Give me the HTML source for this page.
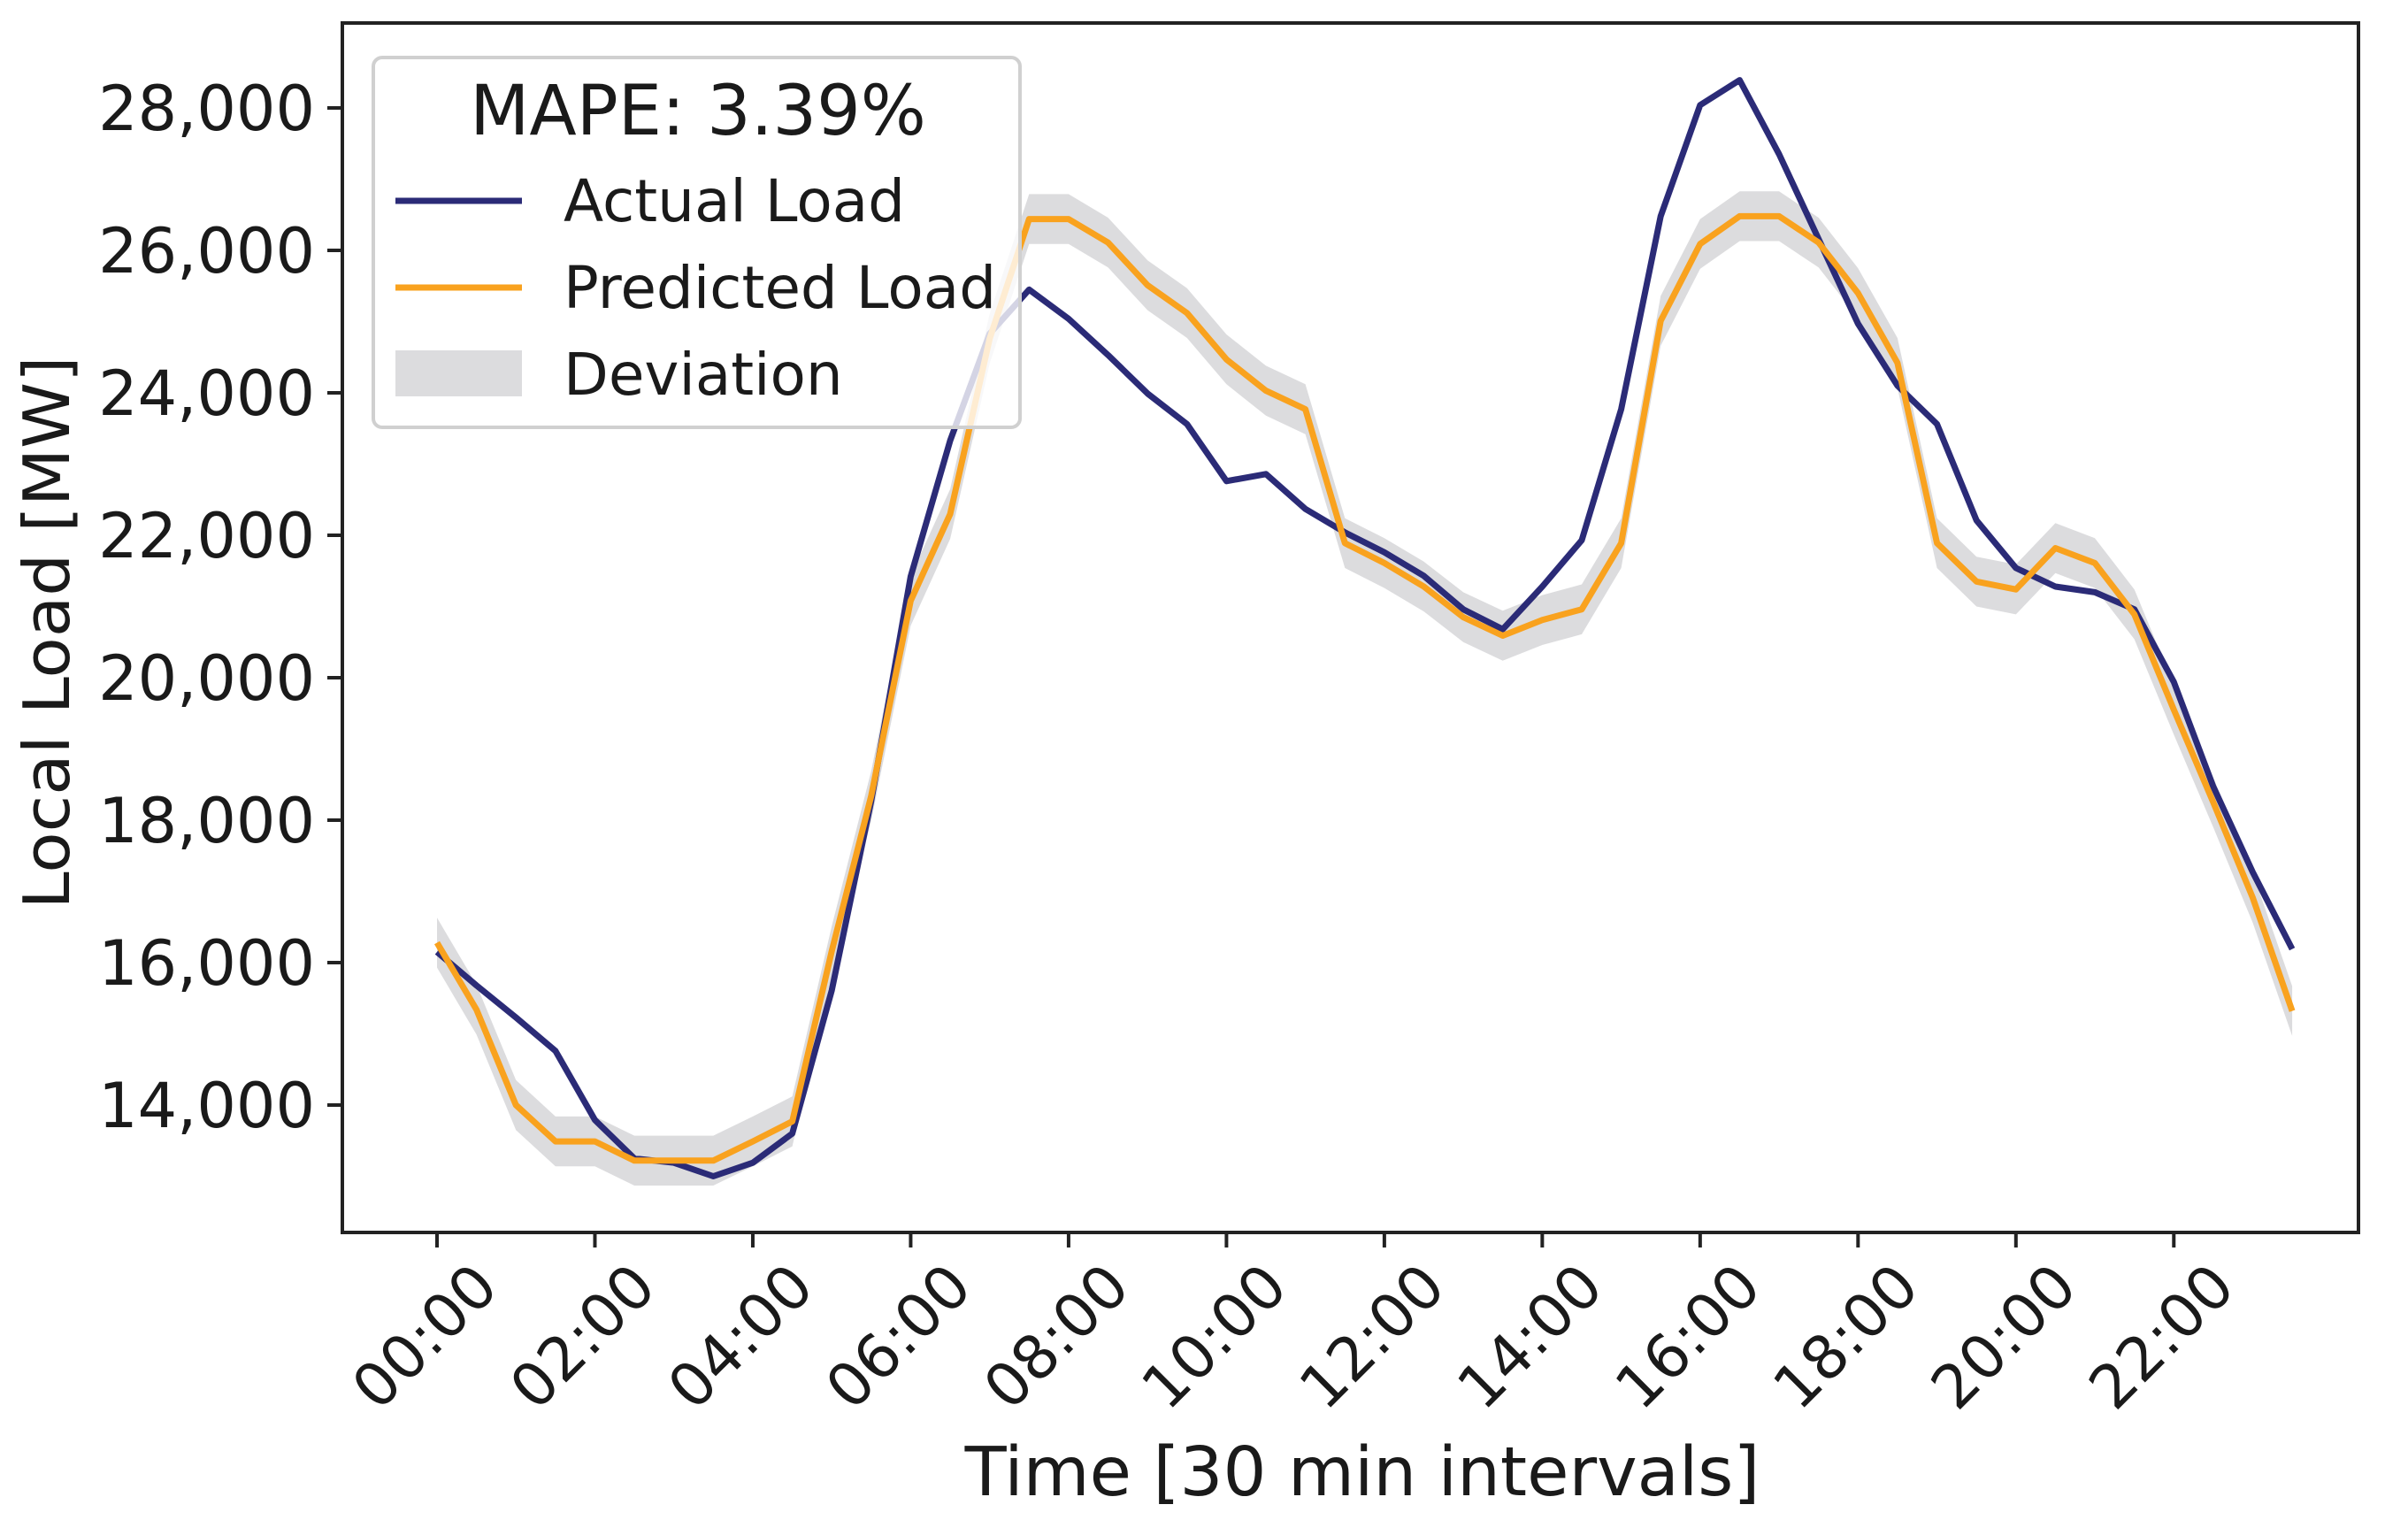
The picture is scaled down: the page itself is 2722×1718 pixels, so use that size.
<!DOCTYPE html>
<html><head><meta charset="utf-8"><style>
html,body{margin:0;padding:0;background:#fff}
svg{display:block}
text{font-family:"DejaVu Sans","Liberation Sans",sans-serif;fill:#1a1a1a}
</style></head><body>
<svg id="chart" width="2722" height="1718" viewBox="0 0 2722 1718" xmlns="http://www.w3.org/2000/svg">
<g id="band-layer"></g>
<g id="line-layer"></g>
<rect x="387" y="26" width="2279" height="1367" fill="none" stroke="#222" stroke-width="4"/>
<g id="axis-layer"></g>
<text transform="translate(78,715) rotate(-90)" text-anchor="middle" font-size="72" textLength="625" lengthAdjust="spacingAndGlyphs">Local Load [MW]</text>
<text x="1540" y="1690" text-anchor="middle" font-size="77">Time [30 min intervals]</text>
<g>
<rect x="422" y="65" width="731" height="418" rx="10" fill="#fff" fill-opacity="0.8" stroke="#d0d0d0" stroke-width="4"/>
<text x="789" y="152" text-anchor="middle" font-size="78">MAPE: 3.39%</text>
<line x1="447" y1="227" x2="590" y2="227" stroke="#2b2b77" stroke-width="7"/>
<text x="637" y="250" font-size="66">Actual Load</text>
<line x1="447" y1="325" x2="590" y2="325" stroke="#f9a21e" stroke-width="7"/>
<text x="637" y="348" font-size="66">Predicted Load</text>
<rect x="447" y="396" width="143" height="52" fill="#dcdcde"/>
<text x="637" y="446" font-size="66">Deviation</text>
</g>
</svg>
<script>
const actual=[16150,15680,15230,14760,13790,13250,13190,13000,13190,13600,15610,18270,21420,23330,24830,25450,25040,24530,23990,23560,22760,22860,22370,22040,21760,21430,20960,20680,21280,21930,23770,26480,28040,28390,27350,26160,24970,24100,23560,22210,21540,21280,21200,20960,19940,18470,17270,16190];
const predicted=[16280,15340,14000,13490,13490,13220,13220,13220,13490,13770,16160,18340,21080,22300,24760,26440,26440,26110,25510,25120,24470,24030,23770,21890,21610,21280,20850,20590,20810,20960,21890,25010,26090,26480,26480,26110,25400,24420,21890,21350,21240,21820,21610,20890,19550,18250,16910,15320];
const deviation=[350,350,350,350,350,350,350,350,350,350,350,350,350,350,350,350,350,350,350,350,350,350,350,350,350,350,350,350,350,350,350,350,350,350,350,350,350,350,350,350,350,350,350,350,350,350,350,350];
const yTicks=[14000,16000,18000,20000,22000,24000,26000,28000];
const xTickIdx=[0,4,8,12,16,20,24,28,32,36,40,44];
const xTickLabels=["00:00","02:00","04:00","06:00","08:00","10:00","12:00","14:00","16:00","18:00","20:00","22:00"];
const NS="http://www.w3.org/2000/svg";
const X=i=>494+i*44.62;
const Y=v=>122+(28000-v)*(1127/14000);
function mk(tag,parent){const e=document.createElementNS(NS,tag);parent.appendChild(e);return e;}
const band=document.getElementById('band-layer');
let up=predicted.map((v,i)=>X(i).toFixed(1)+','+Y(v+deviation[i]).toFixed(1));
let dn=predicted.map((v,i)=>X(i).toFixed(1)+','+Y(v-deviation[i]).toFixed(1)).reverse();
const poly=mk('polygon',band);


poly.setAttribute('points',up.concat(dn).join(' '));
poly.setAttribute('fill','#dcdcde');
const lines=document.getElementById('line-layer');
function line(arr,color,name){const p=mk('polyline',lines);


p.setAttribute('points',arr.map((v,i)=>X(i).toFixed(1)+','+Y(v).toFixed(1)).join(' '));
p.setAttribute('fill','none');p.setAttribute('stroke',color);p.setAttribute('stroke-width','7');p.setAttribute('stroke-linejoin','round');}
line(actual,'#2b2b77','actual-load-line');
line(predicted,'#f9a21e','predicted-load-line');
const ax=document.getElementById('axis-layer');
yTicks.forEach(v=>{const t=mk('line',ax);


t.setAttribute('x1',370);t.setAttribute('x2',387);t.setAttribute('y1',Y(v));t.setAttribute('y2',Y(v));t.setAttribute('stroke','#222');t.setAttribute('stroke-width','4');
const l=mk('text',ax);


l.setAttribute('x',356);l.setAttribute('y',Y(v)+25);l.setAttribute('text-anchor','end');l.setAttribute('font-size','70');
l.textContent=v.toLocaleString('en-US');});
xTickIdx.forEach((i,k)=>{const t=mk('line',ax);


t.setAttribute('x1',X(i));t.setAttribute('x2',X(i));t.setAttribute('y1',1393);t.setAttribute('y2',1410);t.setAttribute('stroke','#222');t.setAttribute('stroke-width','4');
const l=mk('text',ax);


l.setAttribute('transform','translate('+(X(i)+72)+',1458) rotate(-45)');l.setAttribute('text-anchor','end');l.setAttribute('font-size','68');
l.textContent=xTickLabels[k];});
</script>
</body></html>
